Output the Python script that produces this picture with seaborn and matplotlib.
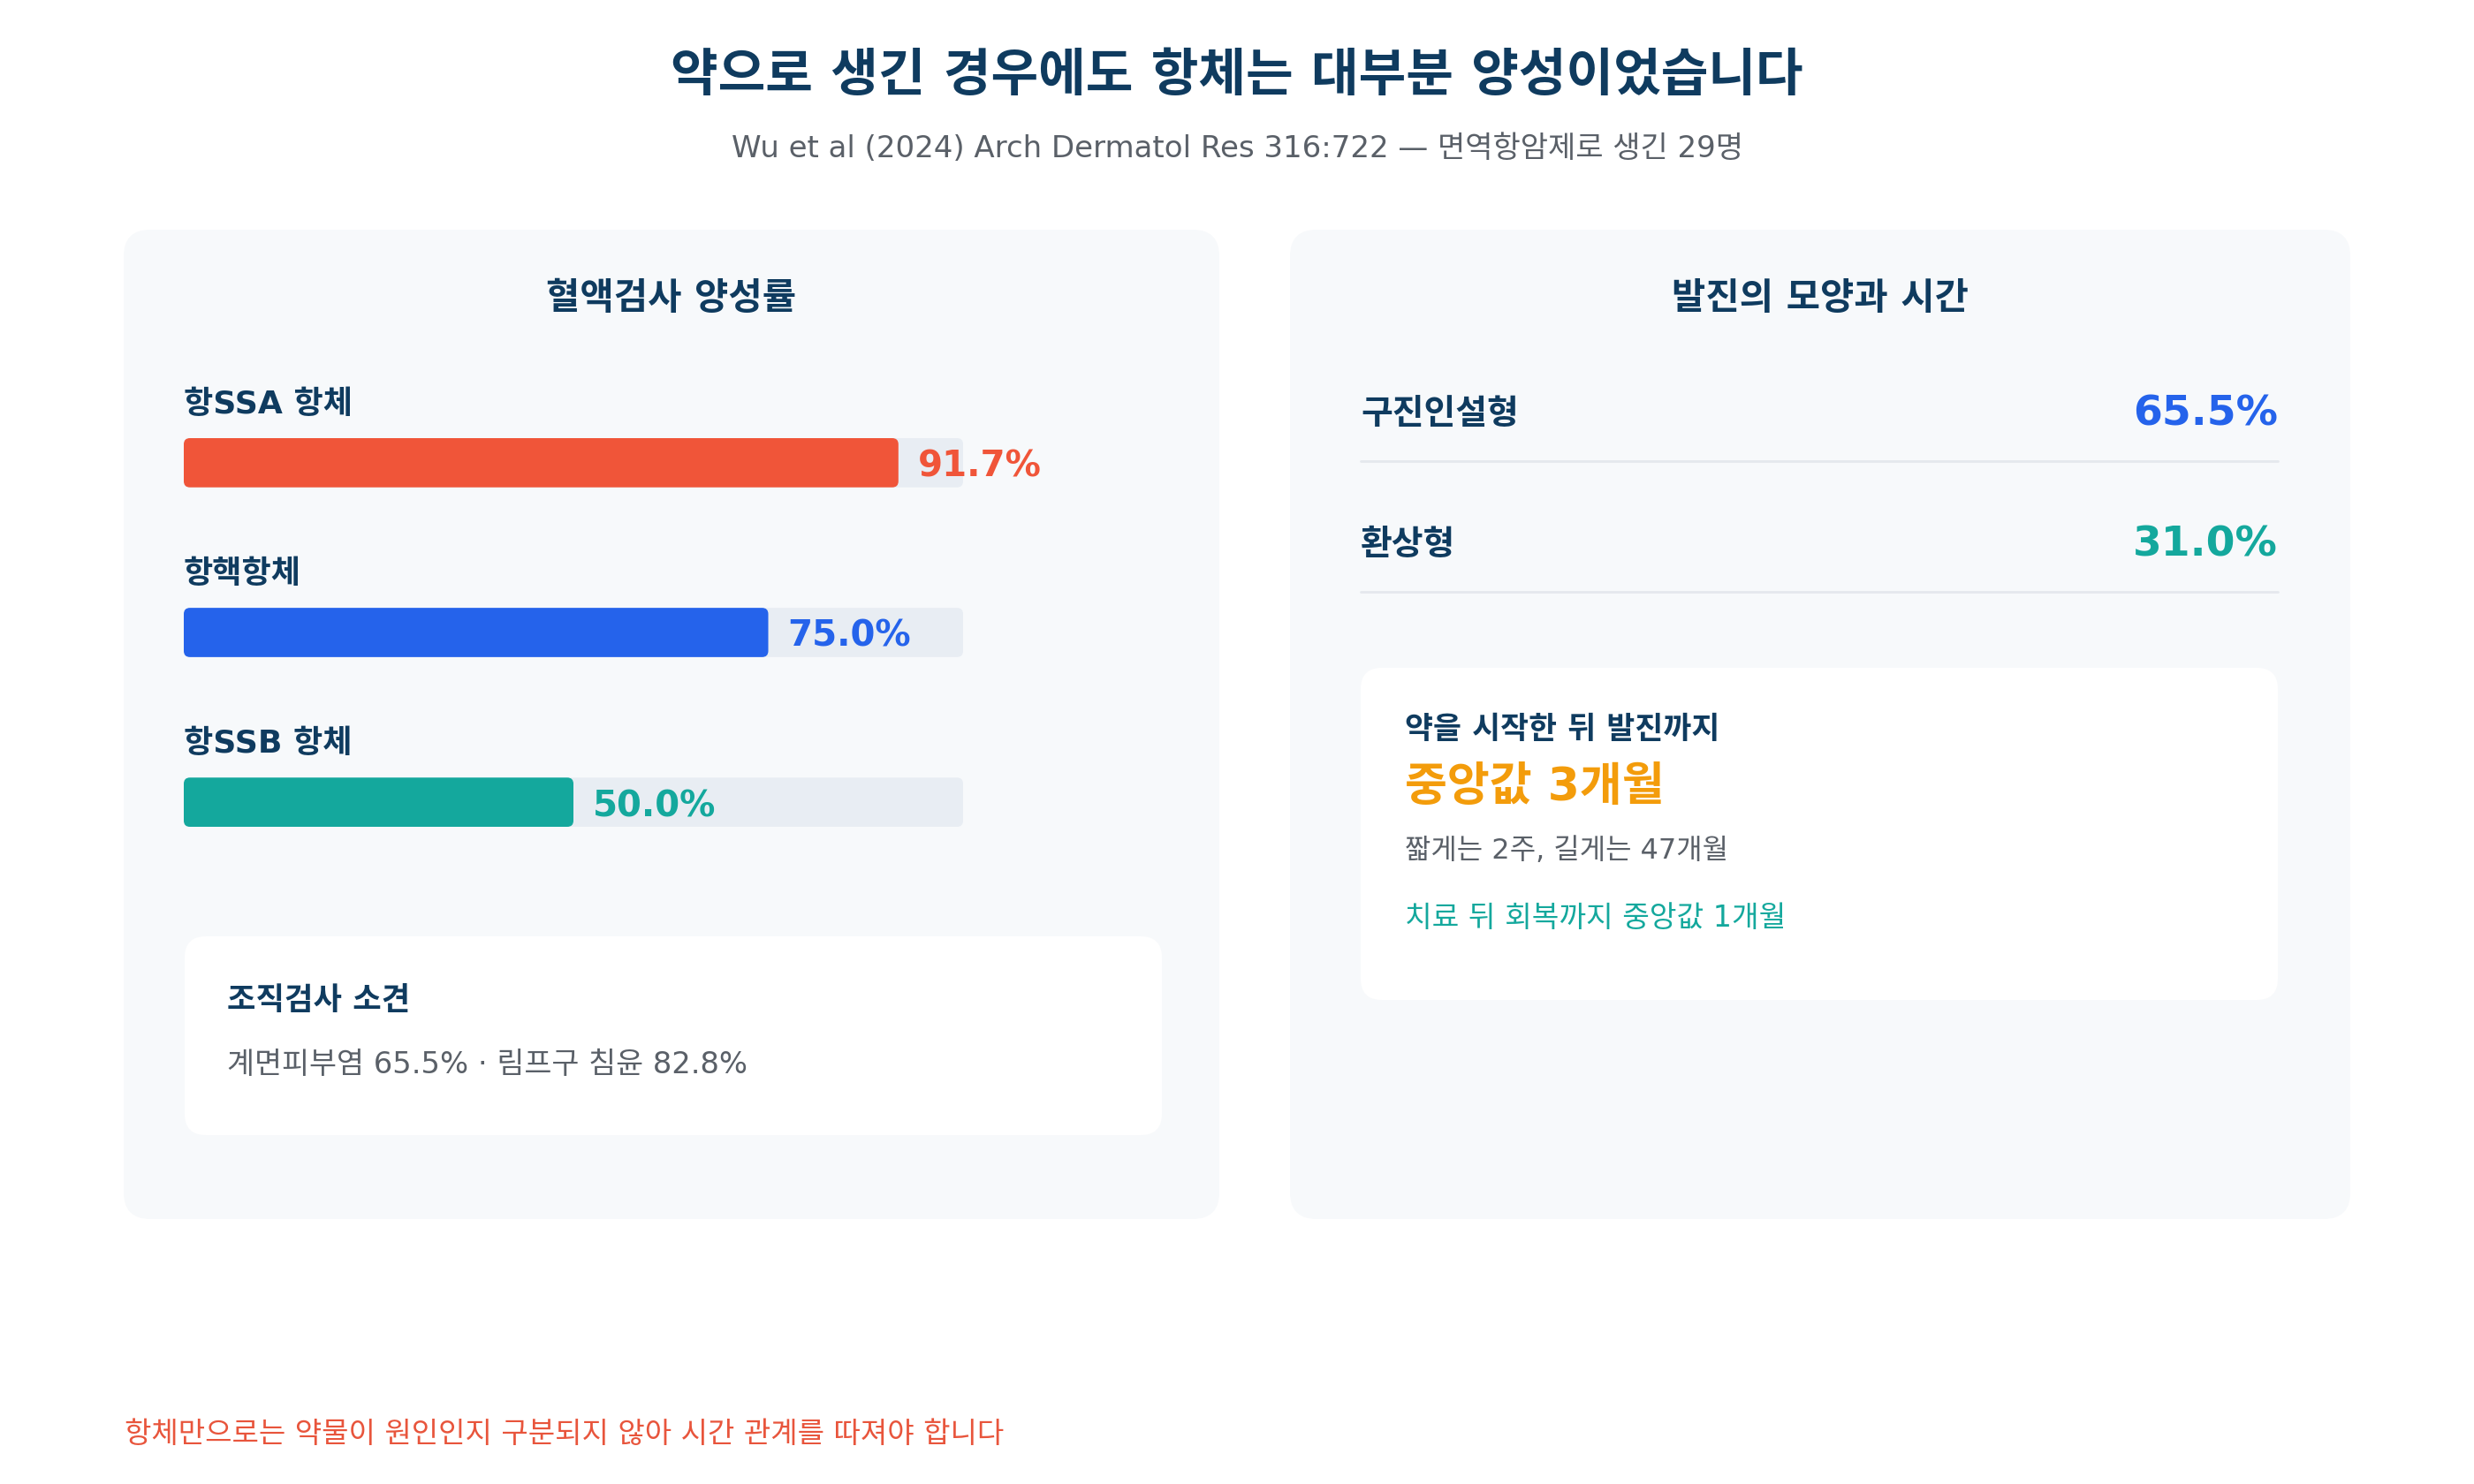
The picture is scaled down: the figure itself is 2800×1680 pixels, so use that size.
import matplotlib
matplotlib.use("Agg")
import matplotlib.pyplot as plt
from matplotlib.patches import FancyBboxPatch
import seaborn as sns
import pandas as pd

# antibody positivity (blood tests)
antibody_labels = ["항SSA 항체", "항핵항체", "항SSB 항체"]
antibody_pcts = [91.7, 75.0, 50.0]
antibody_colors = ["#f05539", "#2563eb", "#14a89d"]

# rash shapes
shape_labels = ["구진인설형", "환상형"]
shape_pcts = [65.5, 31.0]
shape_colors = ["#2563eb", "#14a89d"]

# histology findings
histo_labels = ["계면피부염", "림프구 침윤"]
histo_pcts = [65.5, 82.8]

# timing
onset_median_months = 3
onset_min_weeks = 2
onset_max_months = 47
recovery_median_months = 1

NAVY = "#0f3b5f"
GRAY = "#5a6068"
PANEL = "#f7f9fb"
TRACK = "#e8edf3"
DY = 5  # text centre nudge (px)

sns.set_theme(style="white")
plt.rcParams["font.family"] = ["DejaVu Sans", "Noto Sans CJK KR"]

fig = plt.figure(figsize=(28, 16.8), dpi=100)
fig.patch.set_facecolor("white")

# background canvas in pixel units
bg = fig.add_axes([0, 0, 1, 1])
bg.set_xlim(0, 2800)
bg.set_ylim(1680, 0)
bg.axis("off")


def box(x0, y0, x1, y1, color, r):
    bg.add_patch(FancyBboxPatch((x0 + r, y0 + r), x1 - x0 - 2 * r, y1 - y0 - 2 * r,
                                boxstyle=f"round,pad={r}", fc=color, ec="none", zorder=1))


def txt(x, y, s, **kw):
    kw.setdefault("va", "center")
    kw.setdefault("zorder", 3)
    bg.text(x, y + DY, s, **kw)


txt(1400, 81, "약으로 생긴 경우에도 항체는 대부분 양성이었습니다", ha="center",
    fontsize=42, fontweight="bold", color=NAVY)
txt(1400, 163, "Wu et al (2024) Arch Dermatol Res 316:722 — 면역항암제로 생긴 29명",
    ha="center", fontsize=24.5, color=GRAY)

# panels
box(140, 260, 1380, 1380, PANEL, 30)
box(1460, 260, 2660, 1380, PANEL, 30)

txt(760, 333, "혈액검사 양성률", ha="center", fontsize=30, fontweight="bold", color=NAVY)
txt(2060, 333, "발진의 모양과 시간", ha="center", fontsize=30, fontweight="bold", color=NAVY)

# left: bars
bar_w = 0.29
ax = fig.add_axes([208 / 2800, 1 - 936 / 1680, 882 / 2800, 440 / 1680])
ax.patch.set_alpha(0)
df = pd.DataFrame({"label": antibody_labels, "pct": antibody_pcts})
sns.barplot(data=df.assign(full=100), x="full", y="label", color=TRACK, width=bar_w,
            saturation=1, ax=ax)
sns.barplot(data=df, x="pct", y="label", hue="label", palette=antibody_colors,
            width=bar_w, saturation=1, legend=False, ax=ax)
ax.set_xlim(0, 100)
ax.set_ylim(2 + bar_w / 2, -bar_w / 2)
ax.axis("off")

# round bar corners
px_x = 882 / 100
px_y = 440 / (2 + bar_w)
for p in list(ax.patches):
    x, y, w, h = p.get_x(), p.get_y(), p.get_width(), p.get_height()
    fc = p.get_facecolor()
    p.set_visible(False)
    ax.add_patch(FancyBboxPatch((x, y), w, h, boxstyle=f"round,pad=0,rounding_size={7 / px_x}",
                                mutation_aspect=px_x / px_y, fc=fc, ec="none",
                                clip_on=False, zorder=p.get_zorder()))

for i, (lab, v, c) in enumerate(zip(antibody_labels, antibody_pcts, antibody_colors)):
    ax.text(0, i - 0.36 + 3 / px_y, lab, ha="left", va="center", fontsize=26,
            fontweight="bold", color=NAVY, clip_on=False)
    ax.annotate(f"{v:.1f}%", (v, i + DY / px_y), xytext=(16, 0), textcoords="offset points",
                ha="left", va="center", fontsize=29, fontweight="bold", color=c,
                annotation_clip=False, zorder=5)

# left: histology box
box(209, 1060, 1315, 1285, "white", 24)
txt(257, 1128, "조직검사 소견", ha="left", fontsize=25.4, fontweight="bold", color=NAVY)
txt(257, 1201, f"{histo_labels[0]} {histo_pcts[0]:.1f}% · {histo_labels[1]} {histo_pcts[1]:.1f}%",
    ha="left", fontsize=24.3, color=GRAY)

# right: rash shape rows
row_y = [464, 612]
for yy, lab, v, c in zip(row_y, shape_labels, shape_pcts, shape_colors):
    txt(1540, yy, lab, ha="left", fontsize=28, fontweight="bold", color=NAVY)
    txt(2578, yy, f"{v:.1f}%", ha="right", fontsize=34, fontweight="bold", color=c)
    bg.plot([1540, 2578], [yy + 58, yy + 58], color="#e4e8ed", lw=2, zorder=2)

# right: timing box
box(1540, 756, 2578, 1132, "white", 24)
txt(1590, 821, "약을 시작한 뒤 발진까지", ha="left", fontsize=25, fontweight="bold", color=NAVY)
txt(1590, 887, f"중앙값 {onset_median_months}개월", ha="left", fontsize=37.5,
    fontweight="bold", color="#f39c0b")
txt(1590, 958, f"짧게는 {onset_min_weeks}주, 길게는 {onset_max_months}개월", ha="left",
    fontsize=23, color=GRAY)
txt(1590, 1034, f"치료 뒤 회복까지 중앙값 {recovery_median_months}개월", ha="left",
    fontsize=24, color="#14a89d")

# footer
txt(141, 1618, "항체만으로는 약물이 원인인지 구분되지 않아 시간 관계를 따져야 합니다",
    ha="left", fontsize=23.8, color="#e8553c")

fig.savefig("out.png", dpi=100, facecolor="white")
